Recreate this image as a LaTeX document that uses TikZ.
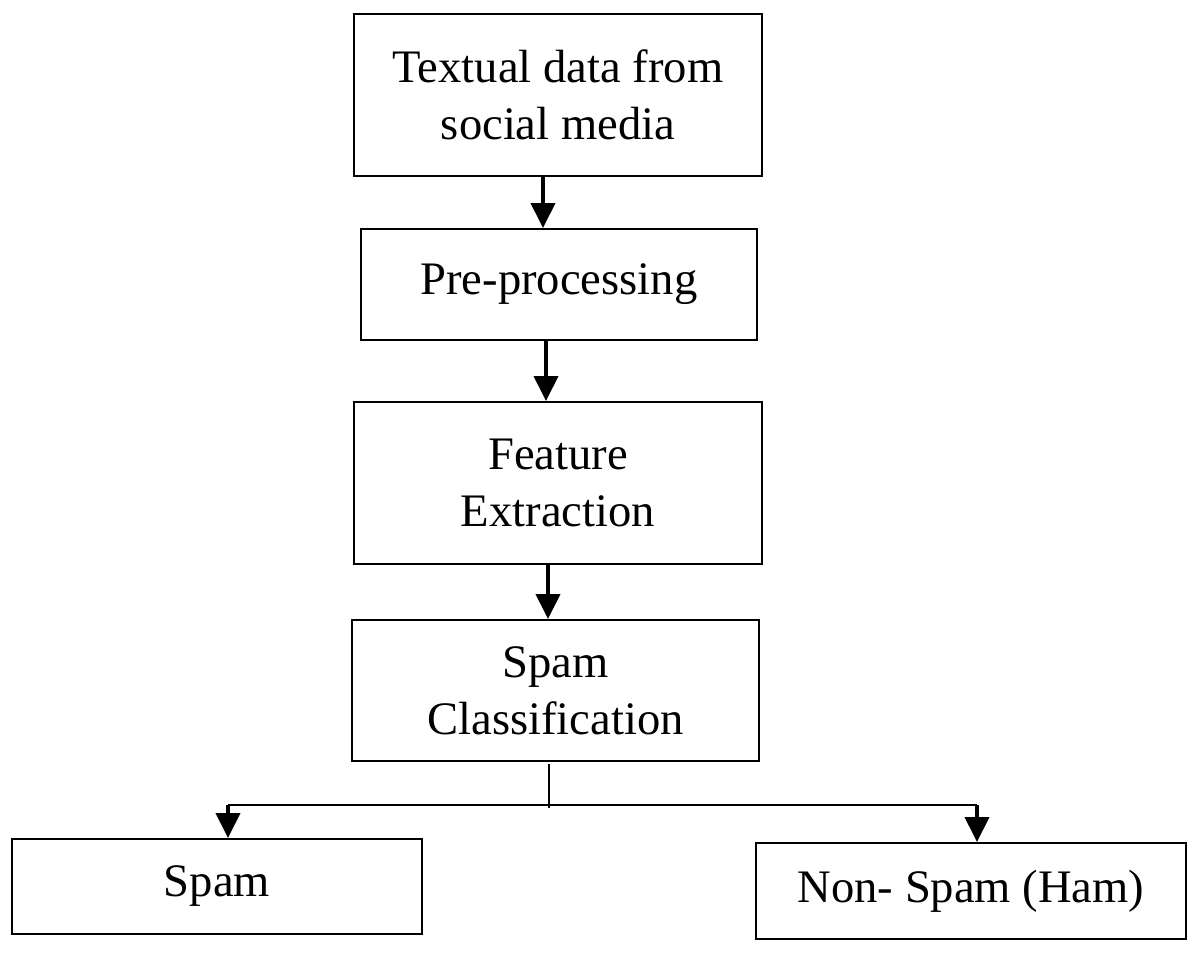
\documentclass[tikz,border=0pt]{standalone}
\usepackage{fontspec}
\setmainfont{Liberation Serif}
\usetikzlibrary{arrows.meta}

\tikzset{
	stage/.style={draw, line width=1pt, align=center, inner sep=0pt, font=\fontsize{23.3}{28.5}\selectfont},
	flow/.style={line width=2pt, -{Triangle[width=12pt,length=12.5pt]}},
}

\begin{document}
\begin{tikzpicture}[x=0.5pt,y=-0.5pt]
		\useasboundingbox (0,0) rectangle (1200,953);
		
		\node [stage, minimum width=204pt, minimum height=81pt, at= {(558,95)}] (src) {Textual data from\\social media};
		\node [stage, minimum width=198pt, minimum height=55.5pt, at= {(559,284.5)}] (pre) {Pre-processing};
		\node [stage, minimum width=204pt, minimum height=81pt, at= {(558,483)}] (feat) {Feature\\Extraction};
		\node [stage, minimum width=203.5pt, minimum height=70.5pt, at= {(555.5,690.5)}] (cls) {Spam\\Classification};
		\node [stage, minimum width=205pt, minimum height=47.5pt, at= {(217,886.5)}] (spam) {Spam};
		\node [stage, minimum width=215pt, minimum height=48pt, at= {(971,891)}] (ham) {Non- Spam (Ham)};
		
		\draw[flow] ([xshift=-7.5pt]src.south) -- ([xshift=-7.5pt]src.south |- pre.north);
		\draw[flow] ([xshift=-6.5pt]pre.south) -- ([xshift=-6.5pt]pre.south |- feat.north);
		\draw[flow] ([xshift=-5pt]feat.south) -- ([xshift=-5pt]feat.south |- cls.north);
		
		\coordinate (fork) at (549,808);
		\coordinate (lft) at (228,805);
		\coordinate (rgt) at (977,805);
		\draw[line width=0.7pt] ([xshift=-3.25pt,yshift=-1pt]cls.south) -- (fork);
		\draw[line width=1.1pt] (lft) -- (rgt);
		\draw[flow] (lft) -- (lft |- spam.north);
		\draw[flow] (rgt) -- (rgt |- ham.north);
\end{tikzpicture}
\end{document}
